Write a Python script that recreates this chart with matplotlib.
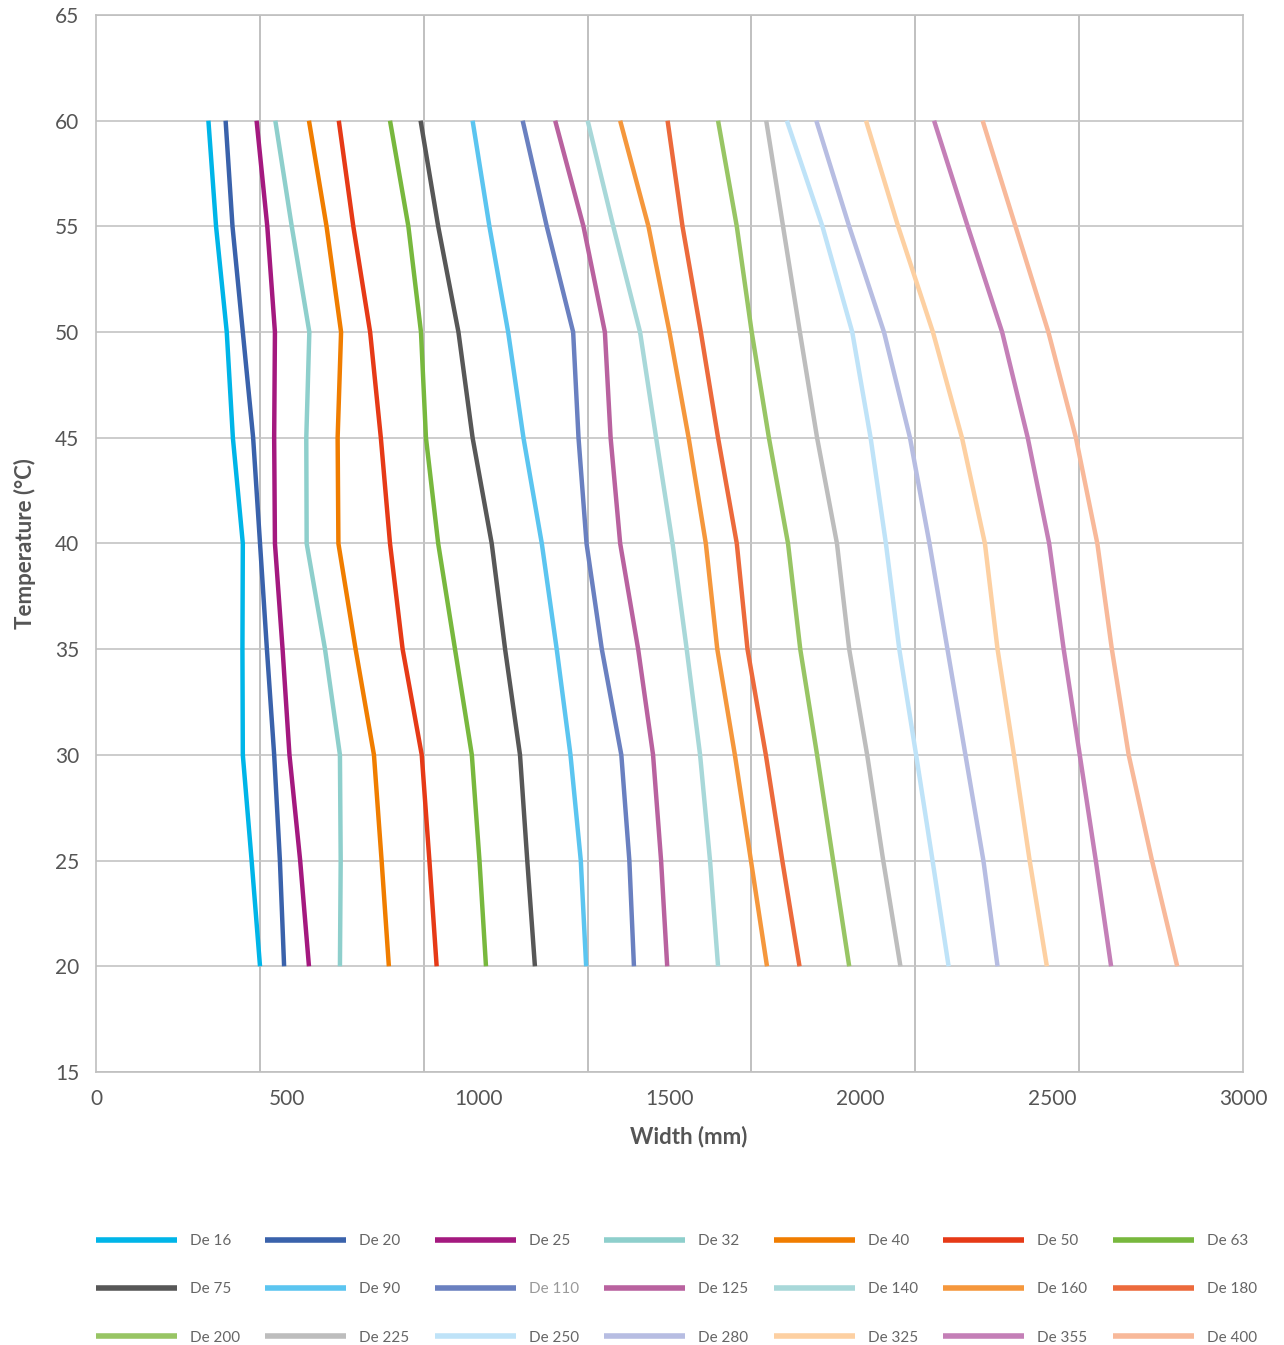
import numpy as np
import matplotlib
matplotlib.use('Agg')
import matplotlib.pyplot as plt

plt.rcParams['font.family'] = ['Lato', 'DejaVu Sans']

# temperatures (°C) at which each width is read
temps = [20, 25, 30, 35, 40, 45, 50, 55, 60]

# widths (mm) per pipe size, same order as temps
de16 = [429, 407, 384, 383, 384, 358, 342, 314, 294]
de20 = [492, 481, 466, 447, 429, 411, 384, 357, 339]
de25 = [557, 534, 506, 488, 468, 466, 468, 448, 420]
de32 = [638, 640, 638, 599, 551, 550, 558, 512, 469]
de40 = [766, 747, 727, 679, 634, 632, 641, 603, 557]
de50 = [891, 872, 852, 802, 769, 745, 717, 673, 635]
de63 = [1020, 1003, 983, 939, 895, 863, 850, 817, 769]
de75 = [1148, 1128, 1109, 1070, 1035, 985, 948, 895, 849]
de90 = [1282, 1268, 1241, 1205, 1166, 1118, 1078, 1029, 985]
de110 = [1407, 1395, 1374, 1323, 1283, 1262, 1248, 1179, 1116]
de125 = [1494, 1478, 1457, 1418, 1371, 1346, 1331, 1275, 1201]
de140 = [1627, 1606, 1580, 1545, 1508, 1465, 1423, 1353, 1286]
de160 = [1755, 1713, 1671, 1625, 1595, 1550, 1500, 1445, 1371]
de180 = [1840, 1795, 1752, 1704, 1676, 1627, 1582, 1534, 1495]
de200 = [1970, 1928, 1886, 1842, 1810, 1760, 1715, 1676, 1627]
de225 = [2104, 2059, 2017, 1970, 1938, 1886, 1841, 1797, 1753]
de250 = [2230, 2188, 2145, 2101, 2066, 2026, 1978, 1900, 1807]
de280 = [2358, 2321, 2274, 2227, 2180, 2129, 2061, 1970, 1884]
de325 = [2487, 2442, 2401, 2358, 2325, 2265, 2189, 2098, 2014]
de355 = [2655, 2615, 2573, 2531, 2493, 2437, 2370, 2280, 2192]
de400 = [2828, 2762, 2701, 2657, 2619, 2563, 2491, 2405, 2319]

labels = ['De 16', 'De 20', 'De 25', 'De 32', 'De 40', 'De 50', 'De 63',
          'De 75', 'De 90', 'De 110', 'De 125', 'De 140', 'De 160', 'De 180',
          'De 200', 'De 225', 'De 250', 'De 280', 'De 325', 'De 355', 'De 400']
series = [de16, de20, de25, de32, de40, de50, de63,
          de75, de90, de110, de125, de140, de160, de180,
          de200, de225, de250, de280, de325, de355, de400]
colors = ['#00b5e8', '#3a62ab', '#a4197f', '#8ecfcc', '#f07d00', '#e63a17', '#78b83e',
          '#575757', '#5bc5f0', '#6a80c0', '#b9629f', '#a8d8d9', '#f5973c', '#ec6a3c',
          '#98c564', '#bdbdbd', '#bfe3f8', '#b7bde2', '#fdd0a2', '#c47fb7', '#f8b99a']

xticks = [0, 500, 1000, 1500, 2000, 2500, 3000]
yticks = [15, 20, 25, 30, 35, 40, 45, 50, 55, 60, 65]

W, H = 1284, 1345
fig = plt.figure(figsize=(W / 100, H / 100), dpi=100)
ax = fig.add_axes([96 / W, 1 - 1072 / H, (1243 - 96) / W, (1072 - 15) / H])

handles = []
for vals, lab, col in zip(series, labels, colors):
    h, = ax.plot(vals, temps, color=col, lw=3.2, solid_capstyle='butt',
                 solid_joinstyle='round', label=lab, zorder=3)
    handles.append(h)

ax.set_xlim(0, 3000)
ax.set_ylim(15, 65)

# labels evenly spread, grid in 7 equal parts
ax.set_xticks(xticks)
ax.set_xticklabels([str(v) for v in xticks])
ax.set_xticks([3000 / 7 * k for k in range(1, 7)], minor=True)
ax.set_yticks(yticks)
ax.tick_params(axis='both', which='both', length=0, labelsize=15, labelcolor='#555555')
ax.tick_params(axis='x', pad=12)
ax.tick_params(axis='y', pad=12)
ax.grid(axis='x', which='minor', color='#b5b5b5', lw=1.2, zorder=1)
ax.grid(axis='y', which='major', color='#c4c4c4', lw=1.2, zorder=1)
for s in ax.spines.values():
    s.set_color('#bfbfbf')
    s.set_linewidth(1.2)

ax.set_xlabel('Width (mm)', fontsize=16, fontweight='bold', color='#555555')
ax.xaxis.set_label_coords(0.517, -0.051)
ax.set_ylabel('Temperature (°C)', fontsize=16, fontweight='bold', color='#555555', labelpad=14)

# legend filled row by row, 3 rows x 7 columns
ncol, nrow = 7, 3
order = [r * ncol + c for c in range(ncol) for r in range(nrow)]
leg = fig.legend([handles[i] for i in order], [labels[i] for i in order],
                 ncol=ncol, loc='upper left', bbox_to_anchor=(96 / W, 1 - 1234 / H),
                 frameon=False, fontsize=11, handlelength=5.3, handletextpad=0.85,
                 columnspacing=1.66, labelspacing=2.25, borderpad=0, borderaxespad=0)
for t in leg.get_texts():
    t.set_color('#9a9a9a' if t.get_text() == 'De 110' else '#666666')
for l in leg.get_lines():
    l.set_linewidth(4)

fig.savefig('out.png', dpi=100)
